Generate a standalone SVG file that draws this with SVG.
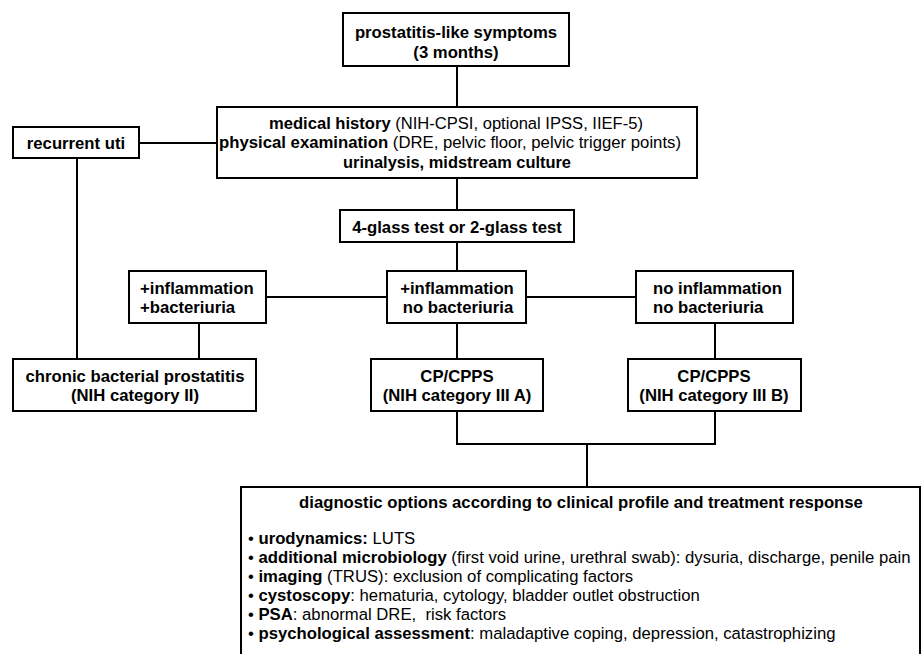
<svg xmlns="http://www.w3.org/2000/svg" width="922" height="654" viewBox="0 0 922 654">
<style>
.box{fill:#fff;stroke:#000;stroke-width:2}
.ln{fill:none;stroke:#000;stroke-width:2}
text{font-family:"Liberation Sans",Arial,sans-serif;fill:#000;font-size:16.7px}
.b{font-weight:bold}
.c{text-anchor:middle}
.r{font-weight:normal}
.db{font-weight:bold}
</style>
<rect width="922" height="654" fill="#fff"/>
<g id="connectors">
<path class="ln" d="M457,66V107"/>
<path class="ln" d="M139,143H217"/>
<path class="ln" d="M77,158V359"/>
<path class="ln" d="M457,178V210"/>
<path class="ln" d="M457,242V271"/>
<path class="ln" d="M266,297H387"/>
<path class="ln" d="M526,297H636"/>
<path class="ln" d="M199,323V359"/>
<path class="ln" d="M457,323V359"/>
<path class="ln" d="M715,323V359"/>
<path class="ln" d="M457,411V444H715V411"/>
<path class="ln" d="M587,444V487"/>
</g>
<g id="n-symptoms">
<rect class="box" x="343" y="13" width="226" height="53"/>
<text class="b c" x="456" y="38">prostatitis-like symptoms</text>
<text class="b c" x="456" y="58">(3 months)</text>
</g>
<g id="n-history">
<rect class="box" x="217" y="107" width="480" height="71"/>
<text class="b c" x="456" y="129" textLength="374" lengthAdjust="spacingAndGlyphs">medical history<tspan class="r"> (NIH-CPSI, optional IPSS, IIEF-5)</tspan></text>
<text class="b c" x="450" y="148" textLength="462" lengthAdjust="spacingAndGlyphs">physical examination<tspan class="r"> (DRE, pelvic floor, pelvic trigger points)</tspan></text>
<text class="b c" x="457" y="168" textLength="228" lengthAdjust="spacingAndGlyphs">urinalysis, midstream culture</text>
</g>
<g id="n-uti">
<rect class="box" x="13" y="127" width="126" height="31"/>
<text class="b c" x="76" y="149">recurrent uti</text>
</g>
<g id="n-glass">
<rect class="box" x="340" y="210" width="234" height="32"/>
<text class="b c" x="457" y="233">4-glass test or 2-glass test</text>
</g>
<g id="n-infl-bact">
<rect class="box" x="129" y="271" width="137" height="52"/>
<text class="b" x="140" y="294">+inflammation</text>
<text class="b" x="140" y="313">+bacteriuria</text>
</g>
<g id="n-infl-nobact">
<rect class="box" x="387" y="271" width="139" height="52"/>
<text class="b c" x="457" y="294">+inflammation</text>
<text class="b c" x="458" y="313">no bacteriuria</text>
</g>
<g id="n-noinfl">
<rect class="box" x="636" y="271" width="157" height="52"/>
<text class="b" x="653" y="294">no inflammation</text>
<text class="b" x="653" y="313">no bacteriuria</text>
</g>
<g id="n-chronic">
<rect class="box" x="13" y="359" width="243" height="52"/>
<text class="b c" x="135" y="382">chronic bacterial prostatitis</text>
<text class="b c" x="135" y="401">(NIH category II)</text>
</g>
<g id="n-cp3a">
<rect class="box" x="371" y="359" width="172" height="52"/>
<text class="b c" x="457" y="382">CP/CPPS</text>
<text class="b c" x="457" y="401">(NIH category III A)</text>
</g>
<g id="n-cp3b">
<rect class="box" x="628" y="359" width="173" height="52"/>
<text class="b c" x="714" y="382">CP/CPPS</text>
<text class="b c" x="714" y="401">(NIH category III B)</text>
</g>
<g id="n-diagnostic">
<rect class="box" x="241" y="487" width="679" height="180"/>
<text class="db c" x="581" y="508">diagnostic options according to clinical profile and treatment response</text>
<text x="248" y="544">• <tspan class="db">urodynamics:</tspan> LUTS</text>
<text x="248" y="563">• <tspan class="db">additional microbiology</tspan> (first void urine, urethral swab): dysuria, discharge, penile pain</text>
<text x="248" y="582">• <tspan class="db">imaging</tspan> (TRUS): exclusion of complicating factors</text>
<text x="248" y="601">• <tspan class="db">cystoscopy</tspan>: hematuria, cytology, bladder outlet obstruction</text>
<text x="248" y="620">• <tspan class="db">PSA</tspan>: abnormal DRE, &#160;risk factors</text>
<text x="248" y="639">• <tspan class="db">psychological assessment</tspan>: maladaptive coping, depression, catastrophizing</text>
</g>
</svg>
